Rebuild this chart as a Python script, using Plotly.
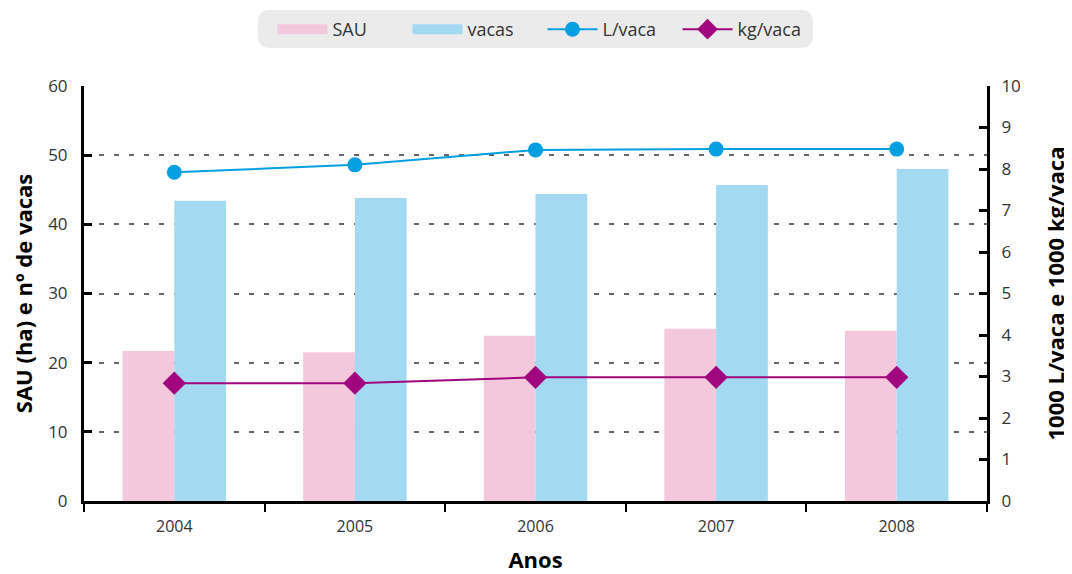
import plotly.graph_objects as go

anos = ["2004", "2005", "2006", "2007", "2008"]
sau = [21.7, 21.5, 23.9, 24.9, 24.6]
vacas = [43.4, 43.8, 44.4, 45.7, 48.0]
l_vaca = [7.92, 8.10, 8.46, 8.48, 8.48]
kg_vaca = [2.84, 2.84, 2.98, 2.98, 2.98]

FONT = "Open Sans"
OFF = 8  # page body margin
W, H = 1072 - OFF, 574 - OFF
ML, MR, MT, MB = 84 - OFF, 85, 86 - OFF, 73
PW, PH = W - ML - MR, H - MT - MB

PINK, BLUE = "#f4c8dc", "#a3daf2"

fig = go.Figure()
fig.add_trace(go.Bar(x=anos, y=sau, name="SAU", showlegend=False,
                     marker=dict(color=PINK, line=dict(width=0))))
fig.add_trace(go.Bar(x=anos, y=vacas, name="vacas", showlegend=False,
                     marker=dict(color=BLUE, line=dict(width=0))))
# legend swatches for the bars (wide rectangles like the original)
fig.add_trace(go.Scatter(x=[None], y=[None], name="SAU", mode="lines",
                         line=dict(color=PINK, width=14)))
fig.add_trace(go.Scatter(x=[None], y=[None], name="vacas", mode="lines",
                         line=dict(color=BLUE, width=14)))
fig.add_trace(go.Scatter(x=anos, y=l_vaca, name="L/vaca", yaxis="y2", mode="lines+markers",
                         line=dict(color="#039fe0", width=2),
                         marker=dict(symbol="circle", size=15, color="#039fe0")))
fig.add_trace(go.Scatter(x=anos, y=kg_vaca, name="kg/vaca", yaxis="y2", mode="lines+markers",
                         line=dict(color="#a0067e", width=2),
                         marker=dict(symbol="diamond", size=18, color="#a0067e")))

# rounded legend background in paper coords (screen px converted)
def py(yscreen):
    return (86 + PH - yscreen) / PH
def px(xscreen):
    return (xscreen - 84) / PW
x0, x1 = px(258), px(813)
y0, y1 = py(48), py(10)
rx, ry = 12 / PW, 12 / PH
path = (f"M {x0+rx},{y0} L {x1-rx},{y0} Q {x1},{y0} {x1},{y0+ry} L {x1},{y1-ry} Q {x1},{y1} {x1-rx},{y1} "
        f"L {x0+rx},{y1} Q {x0},{y1} {x0},{y1-ry} L {x0},{y0+ry} Q {x0},{y0} {x0+rx},{y0} Z")

fig.update_layout(
    width=W, height=H,
    margin=dict(l=ML, r=MR, t=MT, b=MB, autoexpand=False),
    paper_bgcolor="white", plot_bgcolor="white",
    font=dict(family=FONT, color="#333333", size=17),
    barmode="group", bargap=0.427, bargroupgap=0,
    showlegend=True,
    legend=dict(orientation="h", x=0.5 + 7 / PW, xanchor="center", y=py(11), yanchor="top",
                bgcolor="rgba(0,0,0,0)", font=dict(size=18, color="#333333"),
                entrywidth=70, itemwidth=50, traceorder="normal"),
    shapes=[dict(type="path", xref="paper", yref="paper", path=path,
                 fillcolor="#ebebeb", line=dict(width=0), layer="below")],
    xaxis=dict(range=[-0.5, 4.5], showline=True, linecolor="black", linewidth=3,
               ticks="outside", tickson="boundaries", ticklen=8, tickwidth=2, tickcolor="black",
               tickfont=dict(size=16, color="#333333"), showgrid=False, automargin=False,
               ticklabelstandoff=9,
               title=dict(text="<b>Anos</b>", font=dict(size=22, color="black"), standoff=20)),
    yaxis=dict(range=[0, 60], dtick=10, showline=True, linecolor="black", linewidth=3,
               ticks="inside", ticklen=8, tickwidth=3, tickcolor="black", automargin=False,
               showgrid=True, gridcolor="#666666", gridwidth=1.5, griddash="5px,10px",
               zeroline=False, tickfont=dict(size=17, color="#333333"), ticklabelstandoff=10,
               title=dict(text="<b>SAU (ha) e nº de vacas</b>", font=dict(size=22, color="black"), standoff=28)),
    yaxis2=dict(range=[0, 10], dtick=1, overlaying="y", side="right", showline=True,
                linecolor="black", linewidth=3, ticks="inside", ticklen=8, tickwidth=3,
                tickcolor="black", showgrid=False, zeroline=False, automargin=False,
                tickfont=dict(size=17, color="#333333"), ticklabelstandoff=8,
                title=dict(text="<b>1000 L/vaca e 1000 kg/vaca</b>", font=dict(size=22, color="black"), standoff=29)),
)

fig.write_html("out.html")
